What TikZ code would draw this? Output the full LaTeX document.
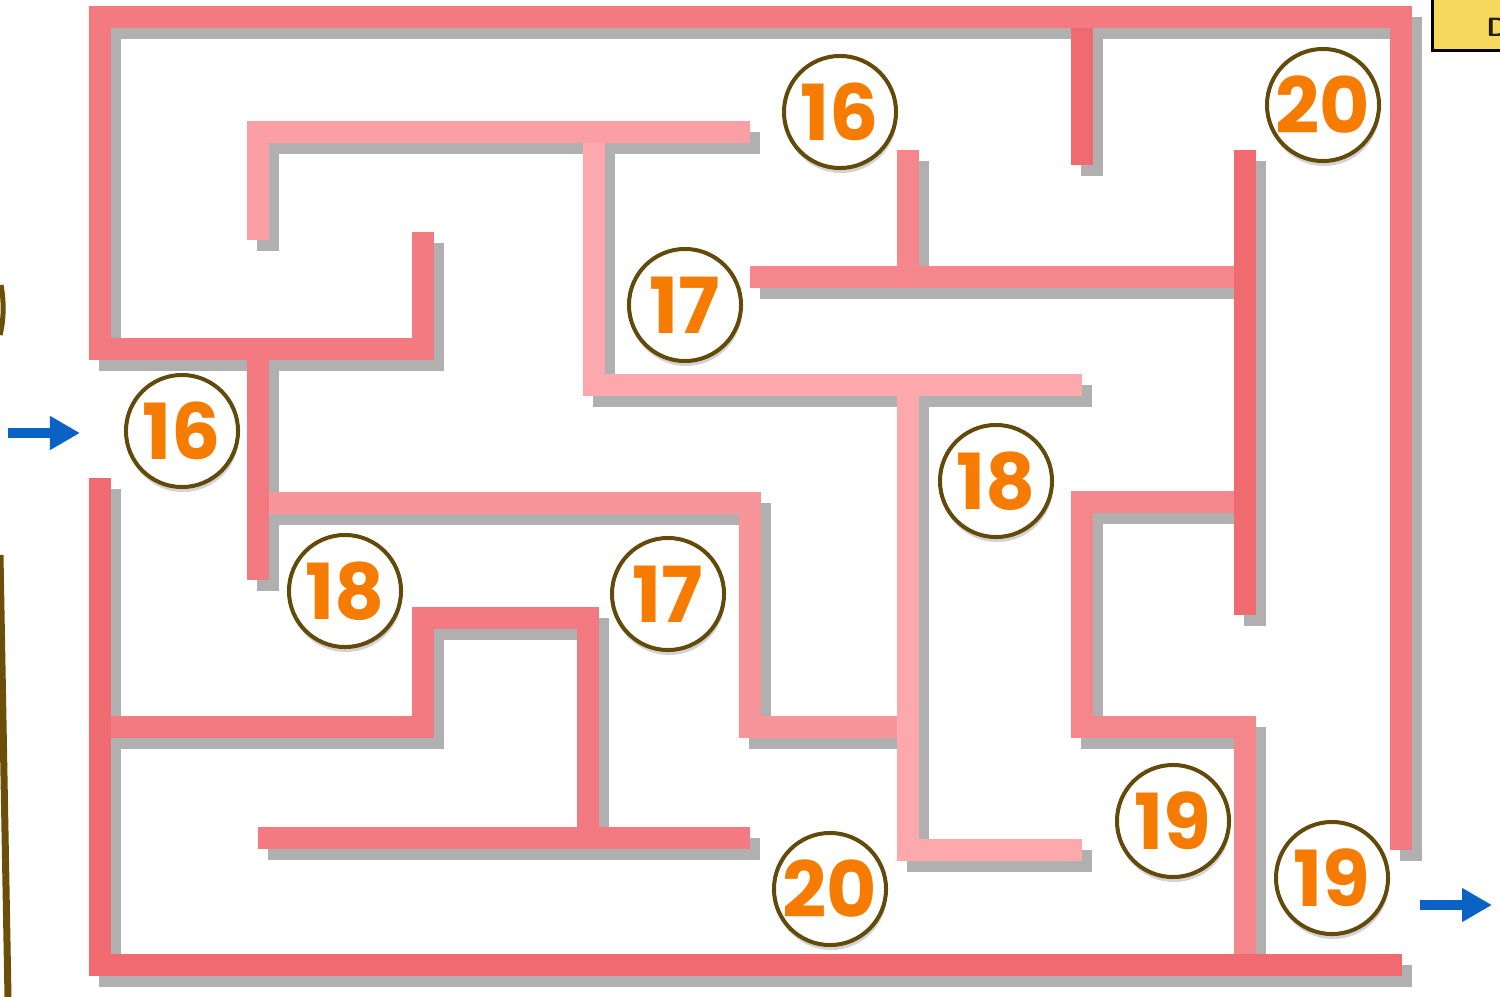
\documentclass[tikz,border=0pt]{standalone}
\usepackage{fontspec}
\newfontfamily\badgefont{Poppins}
\usetikzlibrary{arrows.meta,shadows}

\definecolor{wallA}{HTML}{F37A80}
\definecolor{wallB}{HTML}{F06B70}
\definecolor{wallC}{HTML}{FAA0A5}
\definecolor{wallD}{HTML}{F5878C}
\definecolor{wallE}{HTML}{F8959A}
\definecolor{wallF}{HTML}{FCA8AD}
\definecolor{shadowgray}{HTML}{B0B0B0}
\definecolor{badgeline}{HTML}{614A0A}
\definecolor{badgetext}{HTML}{F57C00}
\definecolor{arrowblue}{HTML}{0A62C4}
\definecolor{notebox}{HTML}{F6D95C}
\definecolor{edgebrown}{HTML}{6B4E08}

\tikzset{
  wall/.style={line width=0.22cm, line cap=butt, line join=miter},
  wallshadow/.style={wall, draw=shadowgray, shift={(10,11)}},
  badge/.style={circle, draw=badgeline, line width=0.04cm, fill=white,
    minimum size=1.12cm, inner sep=0pt, text=badgetext,
    font=\badgefont\bfseries\fontsize{22}{22}\selectfont,
    drop shadow={shadow xshift=0.01cm, shadow yshift=-0.05cm, opacity=0.35}},
  way/.style={-{Triangle[length=0.3cm,width=0.32cm]}, line width=0.1cm, draw=arrowblue},
}

% colour / route of every wall
\def\mazewalls{
  wallA/{(1401,850) -- (1401,17) -- (100,17) -- (100,349) -- (423,349) -- (423,232)},
  wallB/{(1082,28) -- (1082,165)},
  wallC/{(258,240) -- (258,132) -- (750,132)},
  wallF/{(594,143) -- (594,385) -- (1082,385)},
  wallD/{(908,150) -- (908,266)},
  wallD/{(750,277) -- (1234,277)},
  wallB/{(1245,150) -- (1245,615)},
  wallD/{(1234,502) -- (1082,502) -- (1082,727) -- (1245,727) -- (1245,954)},
  wallF/{(908,396) -- (908,850) -- (1082,850)},
  wallA/{(258,360) -- (258,580)},
  wallE/{(269,503) -- (750,503) -- (750,727) -- (897,727)},
  wallB/{(100,478) -- (100,965) -- (1402,965)},
  wallA/{(111,727) -- (423,727) -- (423,618) -- (588,618) -- (588,827)},
  wallA/{(258,838) -- (750,838)}}

\begin{document}
\begin{tikzpicture}[x=0.01cm, y=-0.01cm]
  \useasboundingbox (0,0) rectangle (1500,997);
  \clip (0,0) rectangle (1500,997);

  % walls: shadows first, then the pink bars
  \foreach \col/\route in \mazewalls { \draw[wallshadow] \route; }
  \foreach \col/\route in \mazewalls { \draw[wall, draw=\col] \route; }

  % step numbers
  \node[badge] (b16a) at (840,112) {16};
  \node[badge] (b20a) at (1323,105) {20};
  \node[badge] (b17a) at (685,305) {17};
  \node[badge] (b16b) at (182,431) {16};
  \node[badge] (b18a) at (996,481) {18};
  \node[badge] (b18b) at (345,591) {18};
  \node[badge] (b17b) at (668,594) {17};
  \node[badge] (b20b) at (830,889) {20};
  \node[badge] (b19a) at (1173,821) {19};
  \node[badge] (b19b) at (1332,878) {19};

  % entry and exit
  \coordinate (intail) at (8,433);
  \coordinate (intip) at (80,433);
  \coordinate (outtail) at (1420,905);
  \coordinate (outtip) at (1492,905);
  \draw[way] (intail) -- (intip);
  \draw[way] (outtail) -- (outtip);

  % cut-off note and page edge
  \draw[fill=notebox, draw=black, line width=0.03cm] (1432,-10) rectangle (1530,51);
  \node[anchor=west, inner sep=0pt, text=black!80!brown,
    font=\sffamily\bfseries\fontsize{7.5}{7.5}\selectfont] (tagd) at (1486,27) {D};
  \draw[edgebrown, line width=0.07cm] (0,555) -- (8,997);
  \draw[edgebrown, line width=0.05cm] (1,285) .. controls (4,300) and (4,320) .. (0,335);
\end{tikzpicture}
\end{document}
